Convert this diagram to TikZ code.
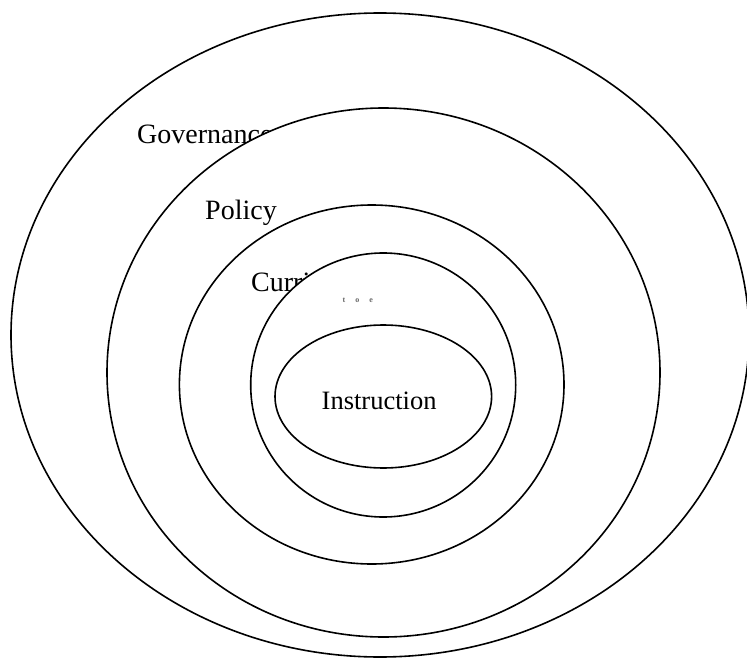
\documentclass[tikz,border=0pt]{standalone}
\usepackage{fontspec}
\setmainfont{Liberation Serif}
\begin{document}
\begin{tikzpicture}[x=1pt,y=-1pt,
  ring/.style={draw=black,fill=white,line width=1.6pt},
  lbl/.style={inner sep=0pt,anchor=base west,font=\fontsize{28}{30}\selectfont},
  inlbl/.style={inner sep=0pt,anchor=base west,font=\fontsize{26.5}{28}\selectfont},
  tiny/.style={inner sep=0pt,anchor=base west,text=black!60,font=\bfseries\fontsize{8}{9}\selectfont}]
\fill[white] (0,0) rectangle (747,658);
\clip (0,0) rectangle (747,658);
\path[ring] (380,335) ellipse [x radius=369pt, y radius=322pt];
\node[lbl] (gov) at (137,143) {Governance};
\path[ring] (383.5,372.5) ellipse [x radius=276.5pt, y radius=264.5pt];
\node[lbl] (pol) at (205,219.5) {Policy};
\path[ring] (371.7,384.5) ellipse [x radius=192.3pt, y radius=179.5pt];
\node[lbl] (cur) at (251,291.5) {Curriculum};
\path[ring] (383.2,385) ellipse [x radius=132.5pt, y radius=132pt];
\node[tiny] (dots) at (342.5,302.5) {t\hspace{10pt}o\hspace{10pt}e};
\path[ring] (383.3,396.5) ellipse [x radius=108.3pt, y radius=71.5pt];
\node[inlbl] (ins) at (321.5,409) {Instruction};
\end{tikzpicture}
\end{document}
